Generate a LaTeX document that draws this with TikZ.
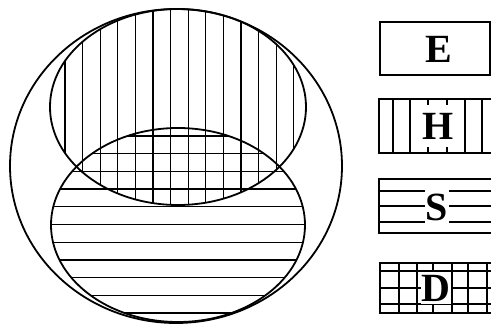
\documentclass[tikz,border=0pt]{standalone}
\usepackage{fontspec}
\setmainfont{Liberation Serif}
\usetikzlibrary{positioning}

\tikzset{
  rim/.style={line width=1.8pt},
  hatch/.style={line width=1.3pt},
  key/.style={font=\fontsize{40}{40}\selectfont\bfseries, fill=white, inner xsep=1pt, inner ysep=2pt},
}

\begin{document}
\begin{tikzpicture}[x=1pt,y=-1pt,line cap=round]
  \useasboundingbox (0,0) rectangle (491,324);
  \clip (0,0) rectangle (491,324);
  % the three sets
  \coordinate (u) at (176,166);
  \coordinate (h) at (178,107);
  \coordinate (s) at (178,225);
  % H: vertical lines
  \begin{scope}
    \clip (h) ellipse [x radius=128, y radius=98];
    \foreach \i in {0,...,13}
      \draw[hatch] (65+17.6*\i,0) -- (65+17.6*\i,324);
  \end{scope}
  % S: horizontal lines
  \begin{scope}
    \clip (s) ellipse [x radius=127, y radius=97];
    \foreach \i in {0,...,10}
      \draw[hatch] (0,136+17.7*\i) -- (400,136+17.7*\i);
  \end{scope}
  \draw[rim] (h) ellipse [x radius=128, y radius=98];
  \draw[rim] (s) ellipse [x radius=127, y radius=97];
  \draw[rim] (u) ellipse [x radius=166, y radius=157];

  % legend
  \draw[rim] (380,22) rectangle (490,75);
  \node[key] (e) at (439,49) {E};

  \draw[rim] (379,99) rectangle (493,153);
  \foreach \x in {393,410,428,447,465,482}
    \draw[hatch] (\x,99) -- (\x,153);
  \node[key, minimum height=42pt] (hk) at (438,126) {H};

  \draw[rim] (379,179) rectangle (493,233);
  \foreach \y in {191,206,222}
    \draw[hatch] (379,\y) -- (493,\y);
  \node[key, minimum height=38pt] (sk) at (437,207) {S};

  \draw[rim] (380,263) rectangle (493,313);
  \foreach \x in {399,417,433,452,468,487}
    \draw[hatch] (\x,263) -- (\x,313);
  \foreach \y in {271,288,304}
    \draw[hatch] (380,\y) -- (493,\y);
  \node[key, minimum height=32pt] (dk) at (436,288) {D};
\end{tikzpicture}
\end{document}
